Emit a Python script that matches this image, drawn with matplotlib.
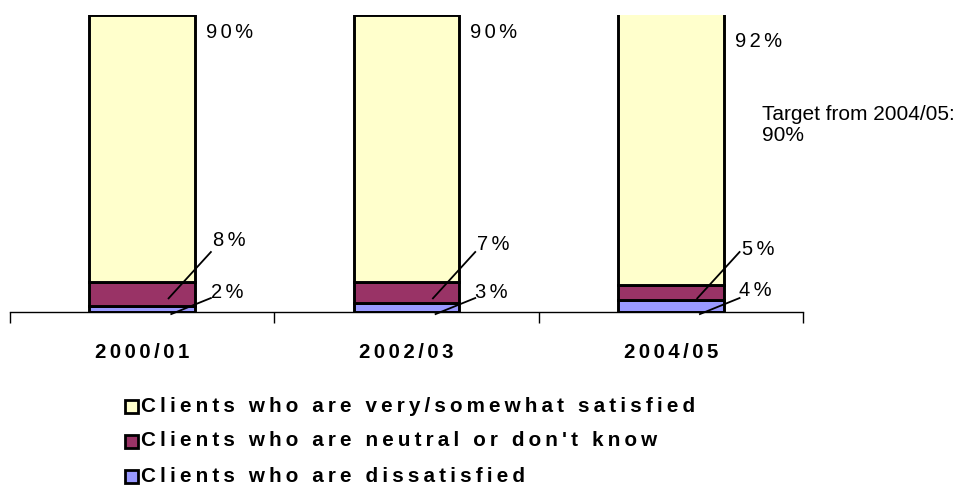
import matplotlib.pyplot as plt
from matplotlib.patches import Rectangle

# data
years = ["2000/01", "2002/03", "2004/05"]
dissatisfied = [2, 3, 4]
neutral = [8, 7, 5]
satisfied = [90, 90, 92]
series_names = ["Clients who are very/somewhat satisfied",
                "Clients who are neutral or don't know",
                "Clients who are dissatisfied"]
colors = ["#FFFFCC", "#993366", "#9999FF"]

plt.rcParams['font.family'] = ['Liberation Sans', 'DejaVu Sans']

THIN = "\u2009"
SIXTH = "\u2006"
HAIR = "\u200A"


def spaced(s, gap=THIN):
    # imitate the wide letter spacing of the original
    return (gap + " " + gap).join(gap.join(w) for w in s.split(" "))


fig = plt.figure(figsize=(9.59, 4.91), dpi=100)
ax = fig.add_axes([10 / 959, 1 - 312 / 491, 793 / 959, 297 / 491])

x = list(range(len(years)))
w = 0.4
lw = 2.1
ax.bar(x, dissatisfied, w, color=colors[2], edgecolor="black", linewidth=lw)
ax.bar(x, neutral, w, bottom=dissatisfied, color=colors[1],
       edgecolor="black", linewidth=lw)
bottoms = [a + b for a, b in zip(dissatisfied, neutral)]
ax.bar(x, satisfied, w, bottom=bottoms, color=colors[0],
       edgecolor="black", linewidth=lw)

ax.set_xlim(-0.5, 2.5)
ax.set_ylim(0, 100)
for s in ["left", "right", "top"]:
    ax.spines[s].set_visible(False)
ax.spines["bottom"].set_linewidth(1)
ax.set_yticks([])
ax.set_xticks([-0.5, 0.5, 1.5, 2.5])
ax.set_xticklabels([])
ax.tick_params(axis="x", direction="out", length=8, width=1)
for i, yr in enumerate(years):
    ax.text(i, -13.5, spaced(yr, HAIR * 2), ha="center", va="center",
            fontsize=14.7, fontweight="bold", clip_on=False)

# value labels with leader lines
top_y = [94, 94, 91]
mid_y = [24.2, 22.6, 20.9]
low_y = [6.7, 6.4, 7.4]
for i in x:
    ax.text(i + 0.33, top_y[i], spaced(f"{satisfied[i]}%", SIXTH), ha="center",
            va="center", fontsize=14.5)
    ax.text(i + 0.33, mid_y[i], spaced(f"{neutral[i]}%", SIXTH), ha="center",
            va="center", fontsize=14.5)
    ax.text(i + 0.32, low_y[i], spaced(f"{dissatisfied[i]}%", SIXTH), ha="center",
            va="center", fontsize=14.5)
    ax.plot([i + 0.1, i + 0.26], [4.6, 20.2], color="black", lw=1.3,
            clip_on=False)
    ax.plot([i + 0.11, i + 0.26], [-0.7, 4.7], color="black", lw=1.3,
            clip_on=False)

ax.text(2.345, 63, "Target from 2004/05:\n90%", ha="left", va="center",
        fontsize=15, linespacing=1.1, clip_on=False)

# legend
for k, name in enumerate(series_names):
    yc = 1 - (406 + 35 * k) / 491
    fig.patches.append(Rectangle((125 / 959, yc - 6.5 / 491), 13 / 959, 13 / 491,
                                 transform=fig.transFigure, facecolor=colors[k],
                                 edgecolor="black", linewidth=2))
    fig.text(141 / 959, yc, spaced(name), ha="left", va="center",
             fontsize=14.9, fontweight="bold")

fig.savefig("out.png", dpi=100)
